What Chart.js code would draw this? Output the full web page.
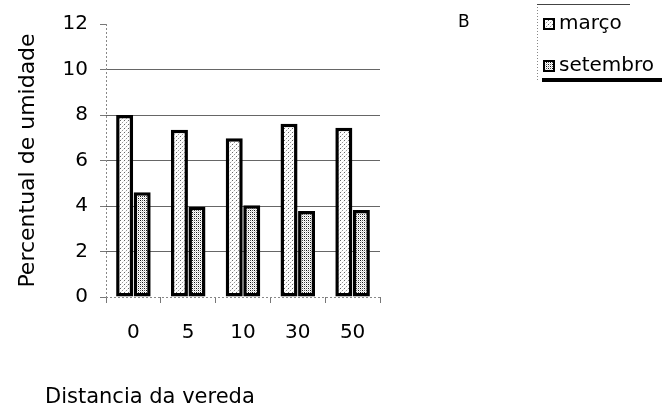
<!DOCTYPE html>
<html><head><meta charset="utf-8">
<script src="https://cdn.jsdelivr.net/npm/chart.js@4/dist/chart.umd.min.js"></script>
<style>html,body{margin:0;padding:0;background:#fff}</style>
</head><body>
<canvas id="c" width="662" height="410"></canvas>
<script>
const categories = ['0', '5', '10', '30', '50'];
const marcoValues = [8.0, 7.35, 6.98, 7.62, 7.44];
const setembroValues = [4.6, 3.97, 4.03, 3.78, 3.82];
const seriesNames = ['março', 'setembro'];
const yTickValues = [0, 2, 4, 6, 8, 10, 12];
const xAxisTitle = 'Distancia da vereda';
const yAxisTitle = 'Percentual de umidade';
const panelLabel = 'B';

const FONT = 'DejaVu Sans';

function makePattern(size, dots) {
  const c = document.createElement('canvas');
  c.width = size; c.height = size;
  const g = c.getContext('2d');
  g.fillStyle = '#fff';
  g.fillRect(0, 0, size, size);
  dots.forEach(d => { g.fillStyle = d[2]; g.fillRect(d[0], d[1], 1, 1); });
  return g.createPattern(c, 'repeat');
}
const ctx = document.getElementById('c').getContext('2d');
const patMarco = makePattern(4, [[0, 0, '#666'], [2, 2, '#999'], [1, 3, '#e4e4e4'], [3, 1, '#e4e4e4']]);
const patSet = makePattern(4, [[0, 0, '#111'], [2, 2, '#111'], [2, 0, '#555'], [0, 2, '#555'], [1, 1, '#ccc'], [3, 3, '#ccc'], [1, 3, '#e0e0e0'], [3, 1, '#e0e0e0']]);
const patterns = [patMarco, patSet];

const extras = {
  id: 'extras',
  afterDraw(chart) {
    const g = chart.ctx;
    const a = chart.chartArea;
    g.save();
    g.strokeStyle = '#888';
    g.lineWidth = 1;
    g.setLineDash([2, 2]);
    g.beginPath(); g.moveTo(a.left + 0.5, a.top); g.lineTo(a.left + 0.5, a.bottom + 1); g.stroke();
    g.beginPath(); g.moveTo(a.left, a.bottom + 0.5); g.lineTo(a.right, a.bottom + 0.5); g.stroke();
    g.setLineDash([]);
    g.fillStyle = '#000';
    g.textBaseline = 'alphabetic';
    g.textAlign = 'left';
    g.font = '21px "' + FONT + '"';
    g.fillText(xAxisTitle, 45, 403);
    g.font = '17px "' + FONT + '"';
    g.fillText(panelLabel, 458, 27);
    g.strokeStyle = '#888';
    g.lineWidth = 1;
    g.setLineDash([1, 2]);
    g.beginPath(); g.moveTo(537.5, 4); g.lineTo(537.5, 80); g.stroke();
    g.setLineDash([]);
    g.strokeStyle = '#444';
    g.beginPath(); g.moveTo(537, 4.5); g.lineTo(630, 4.5); g.stroke();
    g.fillStyle = '#000';
    g.fillRect(542, 78, 120, 4);
    const ys = [24, 66];
    seriesNames.forEach((name, i) => {
      g.fillStyle = patterns[i];
      g.fillRect(543, ys[i] - 6, 12, 12);
      g.strokeStyle = '#000';
      g.lineWidth = 2;
      g.strokeRect(544, ys[i] - 5, 10, 10);
      g.fillStyle = '#000';
      g.font = '20px "' + FONT + '"';
      g.textBaseline = 'middle';
      g.fillText(name, 559, ys[i]);
    });
    g.restore();
  }
};

new Chart(ctx, {
  type: 'bar',
  data: {
    labels: categories,
    datasets: [
      { label: seriesNames[0], data: marcoValues, backgroundColor: patMarco, borderColor: '#000', borderWidth: 3.5, borderSkipped: false, barPercentage: 0.97, categoryPercentage: 0.64 },
      { label: seriesNames[1], data: setembroValues, backgroundColor: patSet, borderColor: '#000', borderWidth: 3.5, borderSkipped: false, barPercentage: 0.97, categoryPercentage: 0.64 }
    ]
  },
  options: {
    responsive: false,
    animation: false,
    devicePixelRatio: 1,
    layout: { padding: { left: 0, right: 282, top: 24, bottom: 0 } },
    plugins: { legend: { display: false }, tooltip: { enabled: false } },
    scales: {
      x: {
        offset: true,
        grid: { drawOnChartArea: false, drawTicks: true, tickLength: 6, tickColor: '#777', offset: true },
        border: { display: false },
        ticks: { font: { family: FONT, size: 20 }, color: '#000', padding: 18 },
        afterFit: s => { s.height = 113; }
      },
      y: {
        min: 0, max: 12,
        afterBuildTicks: s => { s.ticks = yTickValues.map(v => ({ value: v })); },
        grid: {
          color: c => (c.tick && (c.tick.value === 12 || c.tick.value === 0)) ? 'rgba(0,0,0,0)' : '#666',
          tickColor: '#777', tickLength: 6, lineWidth: 1
        },
        border: { display: false },
        ticks: { font: { family: FONT, size: 20 }, color: '#000', padding: 12 },
        title: { display: true, text: yAxisTitle, font: { family: FONT, size: 22 }, color: '#000', padding: { top: 15, bottom: 0 } },
        afterFit: s => { s.width = 106; }
      }
    }
  },
  plugins: [extras]
});
</script>
</body></html>
